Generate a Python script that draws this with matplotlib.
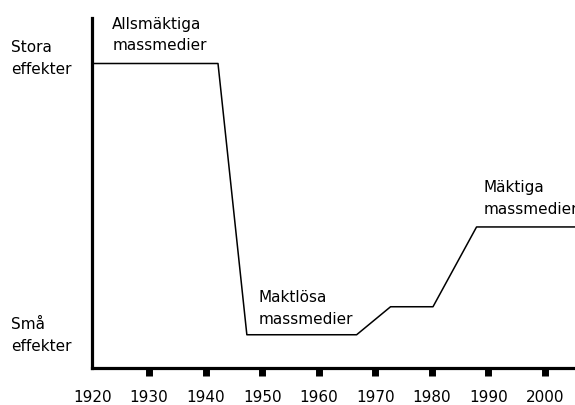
import matplotlib
matplotlib.use("Agg")
import matplotlib.pyplot as plt
from matplotlib.transforms import blended_transform_factory

# effect of mass media over time (hand drawn curve, arbitrary 0-100 scale)
years = [1920, 1942.2, 1947.3, 1966.7, 1972.7, 1980.2, 1987.9, 2005.3]
effect = [87, 87, 9.5, 9.5, 17.5, 17.5, 40.3, 40.3]

decades = [1920, 1930, 1940, 1950, 1960, 1970, 1980, 1990, 2000]
tick_marks = decades[1:]

phase_labels = ["Allsmäktiga\nmassmedier", "Maktlösa\nmassmedier", "Mäktiga\nmassmedier"]
phase_x = [1923.5, 1949.3, 1989.1]
phase_y = [100.4, 22.3, 53.7]

level_labels = ["Stora\neffekter", "Små\neffekter"]
level_y = [93.7, 14.5]

fig = plt.figure(figsize=(5.75, 4.05), dpi=100)
ax = fig.add_axes([92.4 / 575, 37 / 405, 1 - 92.4 / 575, 350 / 405])

ax.plot(years, effect, color="black", lw=1.1)

ax.set_xlim(1920, 2005.3)
ax.set_ylim(0, 100)

for s in ["top", "right"]:
    ax.spines[s].set_visible(False)
for s in ["left", "bottom"]:
    ax.spines[s].set_linewidth(2.3)

ax.set_yticks([])
ax.xaxis.remove_overlapping_locs = False
ax.set_xticks(decades)
ax.set_xticklabels([str(d) for d in decades])
ax.set_xticks(tick_marks, minor=True)
ax.tick_params(axis="x", which="major", length=0, pad=15.5, labelsize=11)
ax.tick_params(axis="x", which="minor", length=5.8, width=5, direction="out")

for txt, x, y in zip(phase_labels, phase_x, phase_y):
    ax.text(x, y, txt, ha="left", va="top", fontsize=11, linespacing=1.55)

trans = blended_transform_factory(fig.transFigure, ax.transData)
for txt, y in zip(level_labels, level_y):
    ax.text(11 / 575, y, txt, transform=trans, ha="left", va="top",
            fontsize=11, linespacing=1.55)

fig.savefig("out.png", dpi=100)
